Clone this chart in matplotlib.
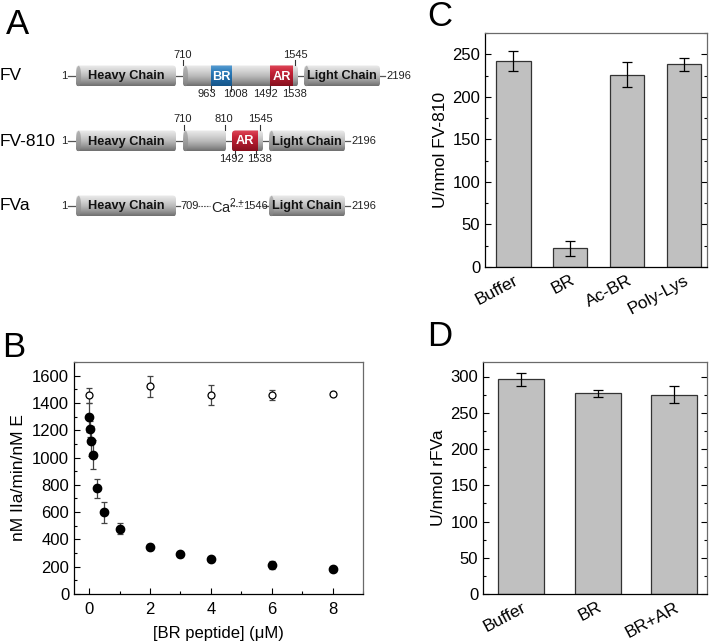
import numpy as np
import matplotlib
matplotlib.use("Agg")
import matplotlib.pyplot as plt
from matplotlib.colors import LinearSegmentedColormap
from matplotlib.patches import FancyBboxPatch, Ellipse
from matplotlib.ticker import MultipleLocator

plt.rcParams['font.family'] = ['Liberation Sans', 'DejaVu Sans']
plt.rcParams['mathtext.fontset'] = 'custom'
plt.rcParams['mathtext.rm'] = 'Liberation Sans'

# --- B: thrombin generation vs BR peptide
conc = [0, 0.03125, 0.0625, 0.125, 0.25, 0.5, 1, 2, 3, 4, 6, 8]
act_fv810 = [1295, 1210, 1120, 1020, 775, 598, 478, 345, 290, 256, 214, 185]
err_fv810 = [105, 60, 110, 105, 70, 75, 42, 25, 18, 8, 30, 10]
conc_fva = [0, 2, 4, 6, 8]
act_fva = [1455, 1522, 1455, 1460, 1467]
err_fva = [55, 78, 73, 35, 10]

# --- C: FV-810 activity
c_labels = ['Buffer', 'BR', 'Ac-BR', 'Poly-Lys']
c_vals = [242, 22, 226, 238]
c_errs = [12, 9, 15, 7.5]

# --- D: rFVa activity
d_labels = ['Buffer', 'BR', 'BR+AR']
d_vals = [296, 277, 275]
d_errs = [9, 5, 12]

# --- A: domain diagram labels
row_names = ['FV', 'FV-810', 'FVa']
fv_top = ['710', '1545']
fv_bottom = ['963', '1008', '1492', '1538']
fv810_top = ['710', '810', '1545']
fv810_bottom = ['1492', '1538']

W, H = 713, 642
fig = plt.figure(figsize=(W / 100, H / 100), dpi=100)

GRAY = ['#ececec', '#d6d6d6', '#bdbdbd', '#9a9a9a', '#6f6f6f']
BLUE = ['#5a9fd4', '#2a7ab8', '#1f68a3', '#16568a']
RED = ['#e0485a', '#c42236', '#a81a2c', '#86101e']


def grad_band(ax, x0, x1, yc, h, cols, clip):
    cmap = LinearSegmentedColormap.from_list('g', cols)
    g = np.linspace(0, 1, 64).reshape(-1, 1)
    im = ax.imshow(g, extent=(x0, x1, yc + h / 2, yc - h / 2), cmap=cmap,
                   aspect='auto', zorder=3, interpolation='bilinear')
    im.set_clip_path(clip)


def cylinder(ax, x0, x1, yc, h=21, cols=GRAY, r=3.5, cap=True):
    patch = FancyBboxPatch((x0, yc - h / 2), x1 - x0, h,
                           boxstyle=f'round,pad=0,rounding_size={r}',
                           fc='none', ec='none', zorder=2)
    ax.add_patch(patch)
    grad_band(ax, x0, x1, yc, h, cols, patch)
    if cap:
        ax.add_patch(Ellipse((x0 + 2.6, yc), 5, h - 0.5, fc='#8a8a8a',
                             ec='none', alpha=0.55, zorder=4))
    return patch


def hline(ax, x0, x1, y):
    ax.plot([x0, x1], [y, y], color='#555555', lw=0.9, zorder=1)


def tick_mark(ax, x, y0, y1):
    ax.plot([x, x], [y0, y1], color='#333333', lw=0.8, zorder=5)


# panel A axes in pixel units
ax_a = fig.add_axes([0, 1 - 230 / H, 420 / W, 230 / H])
ax_a.set_xlim(0, 420)
ax_a.set_ylim(230, 0)
ax_a.axis('off')

num_kw = dict(fontsize=8, color='#222222')
chain_kw = dict(fontsize=9.2, fontweight='bold', color='#111111', zorder=6,
                ha='center', va='center')
white_kw = dict(chain_kw, color='white')

rows_y = [76, 141, 206]
for name, yc in zip(row_names, rows_y):
    ax_a.text(0, yc, name, fontsize=12.5, va='center', ha='left')
    ax_a.text(67, yc, '1', va='center', ha='right', **num_kw)
    hline(ax_a, 68, 76, yc)
    cylinder(ax_a, 76, 176, yc)
    ax_a.text(126, yc + 0.5, 'Heavy Chain', **chain_kw)

# FV
y = rows_y[0]
hline(ax_a, 176, 184, y)
mid = cylinder(ax_a, 183, 298, y)
grad_band(ax_a, 211, 232, y, 21, BLUE, mid)
grad_band(ax_a, 270, 293, y, 21, RED, mid)
ax_a.text(221.5, y + 0.5, 'BR', **white_kw)
ax_a.text(281.5, y + 0.5, 'AR', **white_kw)
hline(ax_a, 298, 305, y)
cylinder(ax_a, 304, 380, y)
ax_a.text(342, y + 0.5, 'Light Chain', **chain_kw)
hline(ax_a, 380, 385, y)
ax_a.text(386, y, '2196', va='center', ha='left', **num_kw)
for lab, xt, xl in zip(fv_top, [183, 295], [183, 295]):
    tick_mark(ax_a, xt, y - 16, y - 10.5)
    ax_a.text(xl, y - 16.5, lab, ha='center', va='bottom', **num_kw)
for lab, xt, xl in zip(fv_bottom, [211, 231, 270, 289], [207, 235, 265, 295]):
    tick_mark(ax_a, xt, y + 10.5, y + 15)
    ax_a.text(xl, y + 13, lab, ha='center', va='top', **num_kw)

# FV-810
y = rows_y[1]
hline(ax_a, 176, 184, y)
cylinder(ax_a, 183, 226, y)
hline(ax_a, 226, 232, y)
ar = cylinder(ax_a, 232, 263, y, cap=False)
grad_band(ax_a, 232, 258, y, 21, RED, ar)
ax_a.text(245, y + 0.5, 'AR', **white_kw)
hline(ax_a, 263, 270, y)
cylinder(ax_a, 269, 345, y)
ax_a.text(307, y + 0.5, 'Light Chain', **chain_kw)
hline(ax_a, 345, 350, y)
ax_a.text(351, y, '2196', va='center', ha='left', **num_kw)
for lab, xt, xl in zip(fv810_top, [184, 225, 260], [183, 224, 260]):
    tick_mark(ax_a, xt, y - 16, y - 10.5)
    ax_a.text(xl, y - 16.5, lab, ha='center', va='bottom', **num_kw)
for lab, xt, xl in zip(fv810_bottom, [235, 256], [231, 260]):
    tick_mark(ax_a, xt, y + 10.5, y + 15)
    ax_a.text(xl, y + 13, lab, ha='center', va='top', **num_kw)

# FVa
y = rows_y[2]
hline(ax_a, 176, 180, y)
ax_a.text(180, y, '709', va='center', ha='left', **num_kw)
ax_a.plot([197.5, 210], [y, y], color='#555555', lw=0.8, ls=(0, (1.5, 1)))
ax_a.text(211, y + 0.5, 'Ca$^{2+}$', va='center', ha='left', fontsize=10.5, color='#222222')
ax_a.plot([230, 242], [y, y], color='#555555', lw=0.8, ls=(0, (1.5, 1)))
ax_a.text(243, y, '1546', va='center', ha='left', **num_kw)
hline(ax_a, 263, 270, y)
cylinder(ax_a, 269, 345, y)
ax_a.text(307, y + 0.5, 'Light Chain', **chain_kw)
hline(ax_a, 345, 350, y)
ax_a.text(351, y, '2196', va='center', ha='left', **num_kw)


def style_axes(ax, right_ticks=False):
    ax.tick_params(which='both', direction='in', labelsize=12)
    ax.tick_params(which='major', length=4, width=0.8)
    ax.tick_params(which='minor', length=2.5, width=0.8)
    if right_ticks:
        ax.tick_params(axis='y', which='both', right=True)
    for s in ['top', 'right']:
        ax.spines[s].set_color('#6a6a6a')
    for s in ax.spines.values():
        s.set_linewidth(0.9)


# panel B
ax_b = fig.add_axes([74 / W, 1 - 594 / H, 289 / W, 232 / H])
ax_b.errorbar(conc_fva, act_fva, yerr=err_fva, fmt='o', ms=5, mfc='white',
              mec='black', mew=0.9, ecolor='#444444', elinewidth=0.9,
              capsize=2.5, capthick=0.9, zorder=3)
ax_b.errorbar(conc, act_fv810, yerr=err_fv810, fmt='o', ms=6, color='black',
              ecolor='#444444', elinewidth=0.9, capsize=2.5, capthick=0.9,
              zorder=4)
ax_b.set_xlim(-0.5, 9)
ax_b.set_ylim(0, 1700)
ax_b.xaxis.set_major_locator(MultipleLocator(2))
ax_b.xaxis.set_minor_locator(MultipleLocator(1))
ax_b.yaxis.set_major_locator(MultipleLocator(200))
ax_b.yaxis.set_minor_locator(MultipleLocator(100))
style_axes(ax_b)
ax_b.tick_params(axis='x', pad=6)
ax_b.set_xlabel('[BR peptide] (\u03bcM)', fontsize=12, labelpad=6)
ax_b.set_ylabel('nM IIa/min/nM E', fontsize=12.5, labelpad=4)


def bar_panel(ax, labels, vals, errs, ymax, xmax):
    x = np.arange(len(labels))
    ax.bar(x, vals, width=0.6, color='#c0c0c0', edgecolor='#333333',
           linewidth=0.9, zorder=2)
    ax.errorbar(x, vals, yerr=errs, fmt='none', ecolor='black',
                elinewidth=0.9, capsize=3.5, capthick=0.9, zorder=3)
    ax.set_xlim(-0.5, xmax)
    ax.set_ylim(0, ymax)
    ax.yaxis.set_major_locator(MultipleLocator(50))
    ax.yaxis.set_minor_locator(MultipleLocator(25))
    ax.set_xticks(x)
    ax.set_xticklabels(labels, rotation=28, ha='right', rotation_mode='anchor')
    style_axes(ax, right_ticks=True)
    ax.tick_params(axis='x', length=0, pad=4, labelsize=12.5)


# panel C
ax_c = fig.add_axes([485 / W, 1 - 267 / H, 222 / W, 234 / H])
bar_panel(ax_c, c_labels, c_vals, c_errs, 275, len(c_labels) - 0.6)
ax_c.set_ylabel('U/nmol FV-810', fontsize=12.5, labelpad=3)

# panel D
ax_d = fig.add_axes([483 / W, 1 - 594 / H, 224 / W, 232 / H])
bar_panel(ax_d, d_labels, d_vals, d_errs, 320, len(d_labels) - 0.57)
ax_d.set_ylabel('U/nmol rFVa', fontsize=12.5, labelpad=3)

# panel letters
for lab, px, py in [('A', 6, 34), ('B', 2, 357), ('C', 427, 26), ('D', 427, 346)]:
    fig.text(px / W, 1 - py / H, lab, fontsize=25, ha='left', va='baseline')

fig.savefig('out.png', dpi=100)
